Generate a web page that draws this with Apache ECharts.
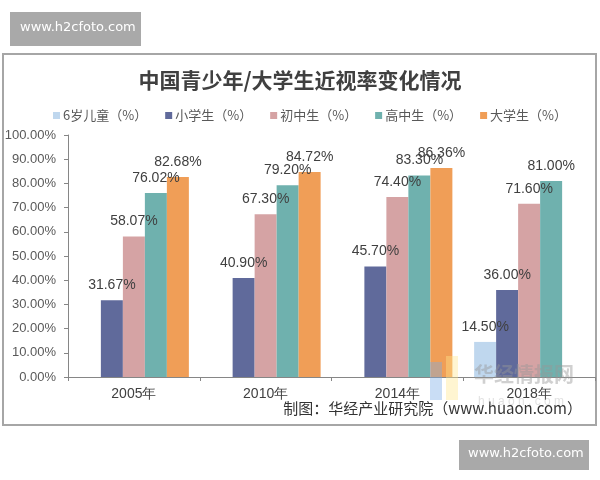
<!DOCTYPE html>
<html>
<head>
<meta charset="utf-8">
<script src="https://cdn.jsdelivr.net/npm/echarts@6/dist/echarts.min.js"></script>
<style>
  html, body { margin: 0; padding: 0; background: #fff; }
  #chart { width: 600px; height: 480px; }
</style>
</head>
<body>
<div id="chart"></div>
<script>
const years = ['2005年', '2010年', '2014年', '2018年'];
const seriesNames = ['6岁儿童（%）', '小学生（%）', '初中生（%）', '高中生（%）', '大学生（%）'];
const child6 = [null, null, null, 14.50];
const primary = [31.67, 40.90, 45.70, 36.00];
const junior = [58.07, 67.30, 74.40, 71.60];
const senior = [76.02, 79.20, 83.30, 81.00];
const college = [82.68, 84.72, 86.36, null];
const colors = ['#bfd7ee', '#606a9b', '#d5a3a4', '#6fb1ae', '#f09e57'];

document.addEventListener('DOMContentLoaded', function() {
    const chart = echarts.init(document.getElementById('chart'));
    const values = [child6, primary, junior, senior, college];

    const series = values.map((data, i) => ({
        name: seriesNames[i],
        type: 'bar',
        data: data,
        barWidth: 22,
        barGap: '0%',
        itemStyle: { color: colors[i] },
        label: {
            show: true,
            position: 'top',
            distance: 8,
            color: '#404040',
            fontFamily: 'Liberation Sans',
            fontSize: 14,
            formatter: p => p.value.toFixed(2) + '%'
        }
    }));

    chart.setOption({
        animation: false,
        backgroundColor: '#fff',
        title: {
            text: '中国青少年/大学生近视率变化情况',
            left: 'center',
            top: 65,
            textStyle: {
                fontFamily: 'Noto Sans CJK SC',
                fontSize: 21,
                fontWeight: 'bold',
                color: '#404040'
            }
        },
        legend: {
            data: seriesNames,
            left: 48,
            width: 900,
            top: 104,
            itemWidth: 7,
            itemHeight: 7,
            itemGap: 18,
            icon: 'rect',
            textStyle: {
                fontFamily: 'Noto Sans CJK SC',
                fontSize: 13,
                color: '#595959',
                padding: [0, 0, 0, -2]
            }
        },
        grid: { left: 68, right: 5, top: 135, bottom: 103 },
        xAxis: {
            type: 'category',
            data: years,
            axisLine: { lineStyle: { color: '#868686' } },
            axisTick: { show: true, length: 4, lineStyle: { color: '#868686' } },
            axisLabel: {
                margin: 10,
                color: '#404040',
                fontFamily: 'Liberation Sans',
                fontSize: 14
            }
        },
        yAxis: {
            type: 'value',
            min: 0,
            max: 100,
            interval: 10,
            axisLine: { show: true, lineStyle: { color: '#868686' } },
            axisTick: { show: true, length: 4, lineStyle: { color: '#868686' } },
            splitLine: { show: false },
            axisLabel: {
                margin: 12,
                color: '#595959',
                fontFamily: 'Liberation Sans',
                fontSize: 13,
                formatter: v => v.toFixed(2) + '%'
            }
        },
        series: series,
        graphic: [
            // chart frame
            { type: 'rect', shape: { x: 3, y: 54, width: 593, height: 371 },
              style: { fill: 'none', stroke: '#a6a6a6', lineWidth: 2 }, z: -1 },
            // source note
            { type: 'text', right: 18, top: 401,
              style: { text: '制图：华经产业研究院（www.huaon.com）', fill: '#333',
                       font: '15px "Noto Sans CJK SC"' } },
            // huaon watermark
            { type: 'rect', shape: { x: 430, y: 362, width: 12, height: 38 },
              style: { fill: 'rgba(120,170,230,0.4)' }, z: 10 },
            { type: 'rect', shape: { x: 446, y: 356, width: 12, height: 44 },
              style: { fill: 'rgba(255,230,140,0.4)' }, z: 10 },
            { type: 'text', left: 474, top: 364,
              style: { text: '华经情报网', fill: 'rgba(150,150,150,0.45)',
                       font: 'bold 20px "Noto Sans CJK SC"' }, z: 10 },
            { type: 'text', left: 478, top: 396,
              style: { text: 'h u a o n . c o m', fill: 'rgba(170,170,170,0.35)',
                       font: '12px "Liberation Sans"' }, z: 10 },
            // h2cfoto watermarks
            { type: 'rect', shape: { x: 10, y: 12, width: 131, height: 34 },
              style: { fill: '#a9a9a9' } },
            { type: 'text', left: 20, top: 21,
              style: { text: 'www.h2cfoto.com', fill: '#fff', font: '13px "DejaVu Sans"' } },
            { type: 'rect', shape: { x: 459, y: 440, width: 130, height: 30 },
              style: { fill: '#a9a9a9' } },
            { type: 'text', left: 468, top: 447,
              style: { text: 'www.h2cfoto.com', fill: '#fff', font: '13px "DejaVu Sans"' } }
        ]
    });
});
</script>
</body>
</html>
